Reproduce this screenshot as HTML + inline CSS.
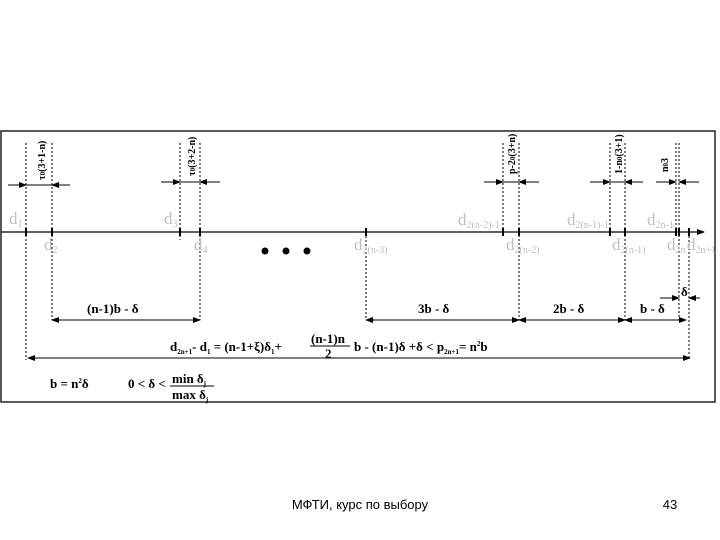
<!DOCTYPE html>
<html><head><meta charset="utf-8"><style>
body{margin:0;background:#fff;width:720px;height:540px;overflow:hidden}
svg{position:absolute;left:0;top:0}
.g{fill:#c0c0c0;font-family:"Liberation Serif",serif;font-size:17px}
.s{font-size:10px}
.b{font-family:"Liberation Serif",serif;font-weight:bold;font-size:13px;fill:#000}
.r{font-family:"Liberation Serif",serif;font-weight:bold;font-size:10px;fill:#000}
</style></head><body>
<svg width="720" height="540" viewBox="0 0 720 540">
<defs><marker id="a" markerWidth="8" markerHeight="6" refX="7" refY="3" orient="auto" markerUnits="userSpaceOnUse"><path d="M0,0L8,3L0,6z" fill="#000"/></marker></defs>
<rect x="1" y="131" width="714" height="271" fill="none" stroke="#000" stroke-width="1.3"/>
<line x1="1" y1="232" x2="704" y2="232" stroke="#000" stroke-width="1.3" marker-end="url(#a)"/>
<g stroke="#000" stroke-width="1" stroke-dasharray="2,2" fill="none">
<line x1="26" y1="143" x2="26" y2="360"/><line x1="52" y1="143" x2="52" y2="320"/>
<line x1="180" y1="143" x2="180" y2="240"/><line x1="200" y1="143" x2="200" y2="320"/>
<line x1="366" y1="232" x2="366" y2="320"/>
<line x1="503" y1="143" x2="503" y2="236"/><line x1="519" y1="143" x2="519" y2="320"/>
<line x1="610" y1="143" x2="610" y2="236"/><line x1="625" y1="143" x2="625" y2="320"/>
<line x1="676" y1="143" x2="676" y2="236"/><line x1="679" y1="143" x2="679" y2="320"/>
<line x1="689" y1="232" x2="689" y2="360"/>
</g>
<g stroke="#000" stroke-width="2">
<line x1="26" y1="228" x2="26" y2="236"/><line x1="52" y1="228" x2="52" y2="236"/>
<line x1="180" y1="228" x2="180" y2="236"/><line x1="200" y1="228" x2="200" y2="236"/>
<line x1="366" y1="228" x2="366" y2="236"/><line x1="503" y1="228" x2="503" y2="236"/>
<line x1="519" y1="228" x2="519" y2="236"/><line x1="610" y1="228" x2="610" y2="236"/>
<line x1="625" y1="228" x2="625" y2="236"/><line x1="676" y1="228" x2="676" y2="236"/>
<line x1="679" y1="228" x2="679" y2="236"/><line x1="689" y1="228" x2="689" y2="236"/>
</g>
<g stroke="#000" stroke-width="1">
<line x1="8" y1="185" x2="26" y2="185" marker-end="url(#a)"/><line x1="70" y1="185" x2="52" y2="185" marker-end="url(#a)"/><line x1="26" y1="185" x2="52" y2="185"/>
<line x1="161" y1="182" x2="180" y2="182" marker-end="url(#a)"/><line x1="220" y1="182" x2="200" y2="182" marker-end="url(#a)"/><line x1="180" y1="182" x2="200" y2="182"/>
<line x1="484" y1="182" x2="503" y2="182" marker-end="url(#a)"/><line x1="539" y1="182" x2="519" y2="182" marker-end="url(#a)"/><line x1="503" y1="182" x2="519" y2="182"/>
<line x1="590" y1="182" x2="610" y2="182" marker-end="url(#a)"/><line x1="643" y1="182" x2="625" y2="182" marker-end="url(#a)"/><line x1="610" y1="182" x2="625" y2="182"/>
<line x1="656" y1="182" x2="676" y2="182" marker-end="url(#a)"/><line x1="699" y1="182" x2="679" y2="182" marker-end="url(#a)"/>
<line x1="660" y1="298" x2="679" y2="298" marker-end="url(#a)"/><line x1="700" y1="298" x2="689" y2="298" marker-end="url(#a)"/>
<line x1="60" y1="320" x2="52" y2="320" marker-end="url(#a)"/><line x1="52" y1="320" x2="200" y2="320" marker-end="url(#a)"/>
<line x1="400" y1="320" x2="366" y2="320" marker-end="url(#a)"/><line x1="366" y1="320" x2="519" y2="320" marker-end="url(#a)"/>
<line x1="560" y1="320" x2="519" y2="320" marker-end="url(#a)"/><line x1="519" y1="320" x2="625" y2="320" marker-end="url(#a)"/>
<line x1="640" y1="320" x2="625" y2="320" marker-end="url(#a)"/><line x1="625" y1="320" x2="686" y2="320" marker-end="url(#a)"/>
<line x1="60" y1="358" x2="28" y2="358" marker-end="url(#a)"/><line x1="28" y1="358" x2="690" y2="358" marker-end="url(#a)"/>
</g>
<g class="r">
<text transform="translate(45,180) rotate(-90)">τ<tspan font-size="7">0</tspan>(3+1-n)</text>
<text transform="translate(195,176) rotate(-90)">τ<tspan font-size="7">0</tspan>(3+2-n)</text>
<text transform="translate(515,174) rotate(-90)">p-2<tspan font-size="7">0</tspan>(3+n)</text>
<text transform="translate(622,174) rotate(-90)">1-n<tspan font-size="7">0</tspan>(3+1)</text>
<text transform="translate(668,172) rotate(-90)">n<tspan font-size="7">0</tspan>3</text>
</g>
<g class="g">
<text x="9" y="224">d<tspan class="s" dy="3">1</tspan></text>
<text x="44" y="250">d<tspan class="s" dy="3">2</tspan></text>
<text x="164" y="224">d<tspan class="s" dy="3">3</tspan></text>
<text x="194" y="250">d<tspan class="s" dy="3">4</tspan></text>
<text x="354" y="250">d<tspan class="s" dy="3">2(n-3)</tspan></text>
<text x="458" y="225">d<tspan class="s" dy="3">2(n-2)-1</tspan></text>
<text x="506" y="250">d<tspan class="s" dy="3">2(n-2)</tspan></text>
<text x="567" y="225">d<tspan class="s" dy="3">2(n-1)-1</tspan></text>
<text x="612" y="250">d<tspan class="s" dy="3">2(n-1)</tspan></text>
<text x="647" y="225">d<tspan class="s" dy="3">2n-1</tspan></text>
<text x="667" y="250">d<tspan class="s" dy="3">2n</tspan></text>
<text x="687" y="250">d<tspan class="s" dy="3">2n+1</tspan></text>
</g>
<circle cx="265" cy="251" r="3.5"/><circle cx="286" cy="251" r="3.5"/><circle cx="307" cy="251" r="3.5"/>
<g class="b">
<text x="87" y="313">(n-1)b - δ</text>
<text x="418" y="313">3b - δ</text>
<text x="553" y="313">2b - δ</text>
<text x="640" y="313">b - δ</text>
<text x="681" y="296">δ</text>
<text x="170" y="351" font-size="13">d<tspan font-size="7" dy="3">2n+1</tspan><tspan dy="-3">- d</tspan><tspan font-size="7" dy="3">1</tspan><tspan dy="-3"> = (n-1+ξ)δ</tspan><tspan font-size="7" dy="3">1</tspan><tspan dy="-3">+</tspan></text>
<text x="311" y="343" font-size="13">(n-1)n</text>
<line x1="310" y1="346" x2="350" y2="346" stroke="#000"/>
<text x="325" y="358" font-size="13">2</text>
<text x="354" y="351" font-size="13">b - (n-1)δ   +δ   &lt; p<tspan font-size="7" dy="3">2n+1</tspan><tspan dy="-3">= n</tspan><tspan font-size="7" dy="-5">2</tspan><tspan dy="5">b</tspan></text>
<text x="50" y="388" font-size="13">b = n<tspan font-size="7" dy="-5">2</tspan><tspan dy="5">δ</tspan></text>
<text x="128" y="388" font-size="13">0 &lt; δ &lt;</text>
<text x="172" y="383" font-size="13">min δ<tspan font-size="7" dy="3">j</tspan></text>
<line x1="170" y1="386" x2="214" y2="386" stroke="#000"/>
<text x="172" y="399" font-size="13">max δ<tspan font-size="7" dy="3">j</tspan></text>
</g>
<text x="360" y="509" text-anchor="middle" font-family="Liberation Sans,sans-serif" font-size="13">МФТИ, курс по выбору</text>
<text x="670" y="509" text-anchor="middle" font-family="Liberation Sans,sans-serif" font-size="13">43</text>
</svg>
</body></html>
